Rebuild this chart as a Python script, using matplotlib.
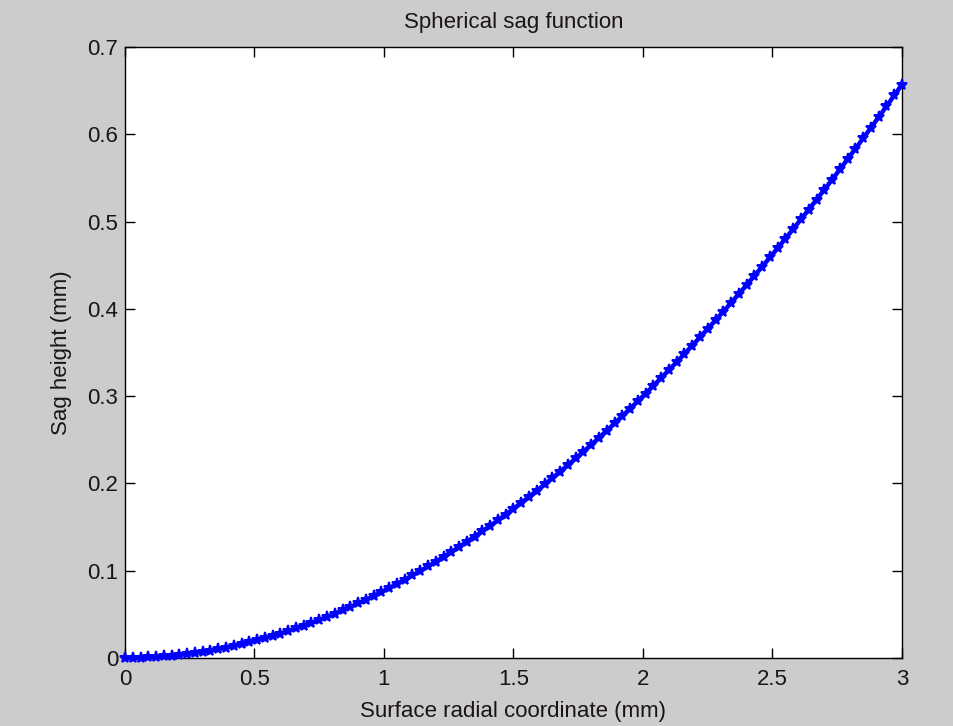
import matplotlib
matplotlib.use("Agg")
import matplotlib.pyplot as plt

radius_mm = [0.00, 0.03, 0.06, 0.09, 0.12, 0.15, 0.18, 0.21, 0.24, 0.27,
             0.30, 0.33, 0.36, 0.39, 0.42, 0.45, 0.48, 0.51, 0.54, 0.57,
             0.60, 0.63, 0.66, 0.69, 0.72, 0.75, 0.78, 0.81, 0.84, 0.87,
             0.90, 0.93, 0.96, 0.99, 1.02, 1.05, 1.08, 1.11, 1.14, 1.17,
             1.20, 1.23, 1.26, 1.29, 1.32, 1.35, 1.38, 1.41, 1.44, 1.47,
             1.50, 1.53, 1.56, 1.59, 1.62, 1.65, 1.68, 1.71, 1.74, 1.77,
             1.80, 1.83, 1.86, 1.89, 1.92, 1.95, 1.98, 2.01, 2.04, 2.07,
             2.10, 2.13, 2.16, 2.19, 2.22, 2.25, 2.28, 2.31, 2.34, 2.37,
             2.40, 2.43, 2.46, 2.49, 2.52, 2.55, 2.58, 2.61, 2.64, 2.67,
             2.70, 2.73, 2.76, 2.79, 2.82, 2.85, 2.88, 2.91, 2.94, 2.97,
             3.00]

sag_mm = [0.0000, 0.0001, 0.0003, 0.0006, 0.0011, 0.0018, 0.0025, 0.0035, 0.0045, 0.0057,
          0.0071, 0.0085, 0.0101, 0.0119, 0.0138, 0.0158, 0.0180, 0.0203, 0.0227, 0.0253,
          0.0280, 0.0309, 0.0338, 0.0370, 0.0402, 0.0436, 0.0471, 0.0508, 0.0546, 0.0585,
          0.0625, 0.0667, 0.0710, 0.0755, 0.0801, 0.0848, 0.0896, 0.0946, 0.0997, 0.1049,
          0.1103, 0.1158, 0.1214, 0.1272, 0.1331, 0.1391, 0.1452, 0.1515, 0.1578, 0.1644,
          0.1710, 0.1778, 0.1847, 0.1917, 0.1988, 0.2061, 0.2135, 0.2210, 0.2286, 0.2364,
          0.2443, 0.2523, 0.2604, 0.2687, 0.2771, 0.2856, 0.2942, 0.3029, 0.3118, 0.3208,
          0.3299, 0.3391, 0.3484, 0.3579, 0.3675, 0.3772, 0.3870, 0.3969, 0.4069, 0.4171,
          0.4274, 0.4378, 0.4483, 0.4589, 0.4697, 0.4805, 0.4915, 0.5026, 0.5138, 0.5251,
          0.5365, 0.5481, 0.5597, 0.5715, 0.5834, 0.5954, 0.6075, 0.6197, 0.6320, 0.6445,
          0.6570]

x_ticks = [0, 0.5, 1, 1.5, 2, 2.5, 3]
x_tick_labels = ["0", "0.5", "1", "1.5", "2", "2.5", "3"]
y_ticks = [0, 0.1, 0.2, 0.3, 0.4, 0.5, 0.6, 0.7]
y_tick_labels = ["0", "0.1", "0.2", "0.3", "0.4", "0.5", "0.6", "0.7"]

plt.rcParams['font.family'] = ['Liberation Sans', 'DejaVu Sans']
txt_color = "#1a1414"
fs = 16

fig = plt.figure(figsize=(9.54, 7.26), dpi=100, facecolor="#cccccc")
ax = fig.add_axes([125/954, 1 - 658/726, (902 - 125)/954, (658 - 47)/726])
ax.set_facecolor("white")

ax.plot(radius_mm, sag_mm, color="#0000ff", linewidth=3.2, marker="*",
        markersize=8, markeredgewidth=1.4, clip_on=False, zorder=3)

ax.set_xlim(0, 3)
ax.set_ylim(0, 0.7)
ax.set_xticks(x_ticks)
ax.set_xticklabels(x_tick_labels)
ax.set_yticks(y_ticks)
ax.set_yticklabels(y_tick_labels)
ax.tick_params(direction="in", length=7, width=1, top=True, right=True,
               labelsize=fs, colors="black", labelcolor=txt_color, pad=5)
ax.tick_params(axis="x", pad=8)
for s in ax.spines.values():
    s.set_linewidth(1)
    s.set_color("black")

ax.set_title("Spherical sag function", fontsize=fs, pad=14, color=txt_color)
ax.set_xlabel("Surface radial coordinate (mm)", fontsize=fs, labelpad=8, color=txt_color)
ax.set_ylabel("Sag height (mm)", fontsize=fs, labelpad=11, color=txt_color)

fig.savefig("out.png", dpi=100, facecolor=fig.get_facecolor())
